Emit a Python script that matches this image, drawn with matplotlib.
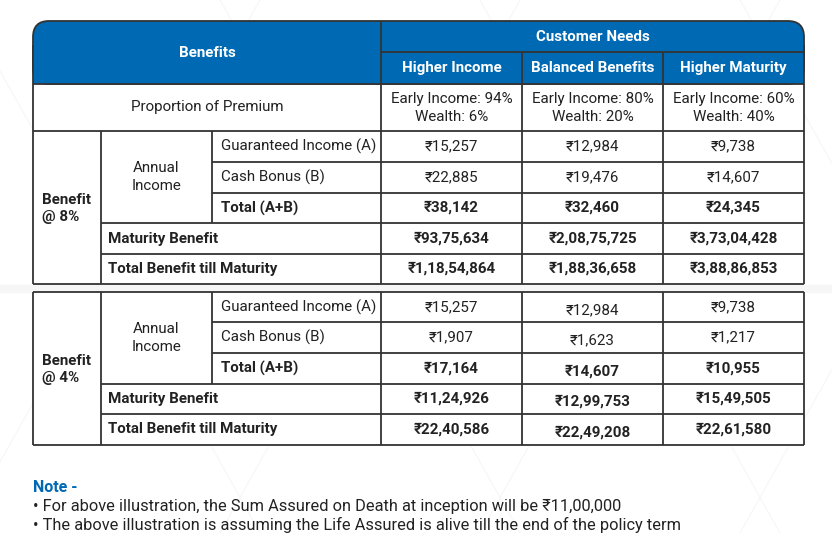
import matplotlib
matplotlib.use("Agg")
import matplotlib.pyplot as plt
from matplotlib.patches import Rectangle, FancyBboxPatch

plt.rcParams['font.family'] = ['Roboto', 'Noto Sans', 'DejaVu Sans']

# data
needs = ["Higher Income", "Balanced Benefits", "Higher Maturity"]
proportion = ["Early Income: 94%\nWealth: 6%", "Early Income: 80%\nWealth: 20%",
              "Early Income: 60%\nWealth: 40%"]
row_labels = ["Guaranteed Income (A)", "Cash Bonus (B)", "Total (A+B)",
              "Maturity Benefit", "Total Benefit till Maturity"]
bold_rows = [False, False, True, True, True]
benefit_8 = [["₹15,257", "₹12,984", "₹9,738"],
             ["₹22,885", "₹19,476", "₹14,607"],
             ["₹38,142", "₹32,460", "₹24,345"],
             ["₹93,75,634", "₹2,08,75,725", "₹3,73,04,428"],
             ["₹1,18,54,864", "₹1,88,36,658", "₹3,88,86,853"]]
benefit_4 = [["₹15,257", "₹12,984", "₹9,738"],
             ["₹1,907", "₹1,623", "₹1,217"],
             ["₹17,164", "₹14,607", "₹10,955"],
             ["₹11,24,926", "₹12,99,753", "₹15,49,505"],
             ["₹22,40,586", "₹22,49,208", "₹22,61,580"]]
notes = ["• For above illustration, the Sum Assured on Death at inception will be ₹11,00,000",
         "• The above illustration is assuming the Life Assured is alive till the end of the policy term"]

BLUE = "#0069b4"
LINE = "#333333"
TXT = "#222222"
FS = 10.9

W, H = 832, 533
fig = plt.figure(figsize=(W / 100, H / 100), dpi=100)
ax = fig.add_axes([0, 0, 1, 1])
ax.set_xlim(0, W)
ax.set_ylim(H, 0)
ax.axis("off")

# faint background pattern
for x0 in range(-300, 900, 260):
    ax.plot([x0, x0 + 300], [0, H], color="#f6f6f6", lw=0.8, zorder=0)
    ax.plot([x0 + 300, x0], [0, H], color="#f6f6f6", lw=0.8, zorder=0)
ax.add_patch(Rectangle((0, 285), W, 7, color="#f6f6f6", zorder=0))

L, C1, C2, C3 = 33, 101, 212, 381
cols = [381, 522, 663, 804]
centers = [(cols[i] + cols[i + 1]) / 2 for i in range(3)]

def line(x0, y0, x1, y1, c=LINE, lw=1.3):
    ax.plot([x0, x1], [y0, y1], color=c, lw=lw, zorder=3, solid_capstyle="butt")

# header with rounded top corners
top, mid, hb = 21, 52, 84
ax.add_patch(FancyBboxPatch((L, top), cols[-1] - L, hb - top,
                            boxstyle="round,pad=0,rounding_size=16",
                            fc=BLUE, ec=LINE, lw=1.3, zorder=2))
ax.add_patch(Rectangle((L, 50), cols[-1] - L, hb - 50, fc=BLUE, ec="none", zorder=2))
line(L, 45, L, hb)
line(cols[-1], 45, cols[-1], hb)
line(C3, top, C3, hb)
line(C3, mid, cols[-1], mid)
for x in cols[1:3]:
    line(x, mid, x, hb)
ax.text((L + C3) / 2, 53, "Benefits", color="white", fontsize=FS, weight="bold",
        ha="center", va="center", zorder=4)
ax.text((C3 + cols[-1]) / 2, 37, "Customer Needs", color="white", fontsize=FS,
        weight="bold", ha="center", va="center", zorder=4)
for i, n in enumerate(needs):
    ax.text(centers[i], 68, n, color="white", fontsize=FS, weight="bold",
            ha="center", va="center", zorder=4)

# proportion row
pb = 131
ax.add_patch(Rectangle((L, hb), cols[-1] - L, pb - hb, fc="white", ec="none", zorder=1))
line(L, hb, L, pb)
line(cols[-1], hb, cols[-1], pb)
line(L, hb, cols[-1], hb)
for x in cols[:3]:
    line(x, hb, x, pb)
ax.text((L + C3) / 2, 107, "Proportion of Premium", color=TXT, fontsize=FS,
        ha="center", va="center", zorder=4)
for i, p in enumerate(proportion):
    ax.text(centers[i], 108, p, color=TXT, fontsize=FS, ha="center", va="center",
            linespacing=1.4, zorder=4)


def benefit_block(y0, ys, label, values, yoff):
    y_end = ys[-1]
    ax.add_patch(Rectangle((L, y0), cols[-1] - L, y_end - y0, fc="white", ec="none", zorder=1))
    line(L, y0, cols[-1], y0)
    line(L, y_end, cols[-1], y_end)
    line(L, y0, L, y_end)
    line(cols[-1], y0, cols[-1], y_end)
    line(C1, y0, C1, y_end)
    for x in cols[:3]:
        line(x, y0, x, y_end)
    line(C2, y0, C2, ys[2])
    bounds = [y0] + ys
    for j in range(4):
        x_start = C2 if j < 2 else C1
        line(x_start, bounds[j + 1], cols[-1], bounds[j + 1])
    ax.text(42, (y0 + y_end) / 2 + 1, label, color=TXT, fontsize=FS, weight="bold",
            ha="left", va="center", linespacing=1.35, zorder=4)
    ax.text((C1 + C2) / 2, (y0 + ys[2]) / 2, "Annual\nIncome", color=TXT, fontsize=FS,
            ha="center", va="center", linespacing=1.35, zorder=4)
    for j, lab in enumerate(row_labels):
        yc = (bounds[j] + bounds[j + 1]) / 2
        xl = 221 if j < 3 else 108
        ax.text(xl, yc, lab, color=TXT, fontsize=FS,
                weight="bold" if bold_rows[j] else "normal",
                ha="left", va="center", zorder=4)
        for i in range(3):
            ax.text(centers[i], yc + yoff[i], values[j][i], color=TXT, fontsize=FS,
                    weight="bold" if bold_rows[j] else "normal",
                    ha="center", va="center", zorder=4)


benefit_block(131, [162, 193, 223, 254, 284], "Benefit\n@ 8%", benefit_8, [0, 0, 0])
benefit_block(292, [322, 353, 384, 414, 445], "Benefit\n@ 4%", benefit_4, [0, 3, 0])

# notes
ax.text(33, 487, "Note -", color=BLUE, fontsize=11.5, weight="bold", ha="left",
        va="center", zorder=4)
for k, n in enumerate(notes):
    ax.text(33, 506 + 19 * k, n, color=TXT, fontsize=11.8, ha="left", va="center", zorder=4)

fig.savefig("out.png", dpi=100)
